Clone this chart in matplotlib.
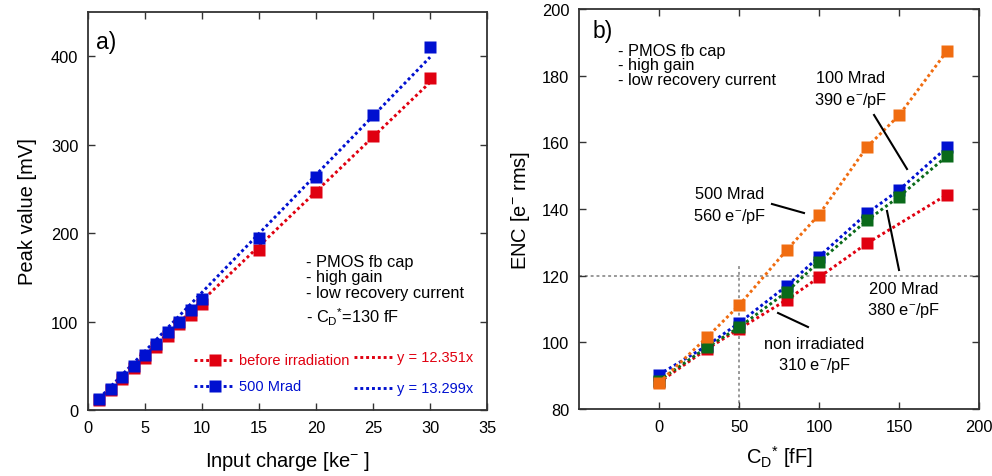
import matplotlib
matplotlib.use("Agg")
import matplotlib.pyplot as plt
import numpy as np

plt.rcParams["font.family"] = ["Liberation Sans", "DejaVu Sans"]
plt.rcParams["mathtext.fontset"] = "custom"
plt.rcParams["mathtext.rm"] = "Liberation Sans"
plt.rcParams["mathtext.it"] = "Liberation Sans"

RED = "#e00010"
BLUE = "#0010d0"
GREEN = "#0a6a1a"
ORANGE = "#f06c10"
AXIS = "#333333"

# a) peak value vs input charge
charge = [1, 2, 3, 4, 5, 6, 7, 8, 9, 10, 15, 20, 25, 30]
peak_before = [11, 23, 35, 47, 59, 71, 84, 97, 107, 120, 181, 246, 310, 375]
peak_500 = [12, 24, 37, 50, 62, 75, 88, 100, 113, 126, 195, 263, 333, 410]
slope_before = 12.351
slope_500 = 13.299

# b) ENC vs detector capacitance
cd_red = [0, 30, 50, 80, 100, 130, 180]
enc_non_irr = [88, 98, 104, 112.8, 119.5, 129.7, 144.3]
cd_all = [0, 30, 50, 80, 100, 130, 150, 180]
enc_100 = [90.3, 99, 105.8, 117, 125.7, 138.7, 145.7, 158.5]
enc_200 = [88.5, 98.5, 104.5, 115.2, 124.2, 136.6, 143.7, 155.9]
enc_500 = [87.9, 101.5, 111.1, 127.8, 138.3, 158.6, 168.1, 187.4]

MS = 8.2
LABEL_FS = 14.5
NOTE_FS = 11.8
DOTS = dict(ls=(0, (1.0, 1.0)), lw=2.1)


def style_axes(ax):
    for side in ax.spines.values():
        side.set_color(AXIS)
        side.set_linewidth(1.3)
    ax.tick_params(direction="in", length=5, width=1.0, color=AXIS,
                   top=True, right=True, labelsize=11.8, pad=7)


fig = plt.figure(figsize=(9.92, 4.77), dpi=100)
ax1 = fig.add_axes([0.0887, 0.1384, 0.4023, 0.8343])
ax2 = fig.add_axes([0.5837, 0.1405, 0.4032, 0.8385])

# ---- panel a ----
fit_x = np.array([1, 30])
ax1.plot(fit_x, slope_before * fit_x, color=RED, **DOTS)
ax1.plot(fit_x, slope_500 * fit_x, color=BLUE, **DOTS)
ax1.plot(charge, peak_before, "s", ms=MS, color=RED, mec="none")
ax1.plot(charge, peak_500, "s", ms=MS, color=BLUE, mec="none")
ax1.set_xlim(0, 35)
ax1.set_ylim(0, 450)
ax1.set_xticks(range(0, 36, 5))
ax1.set_yticks([0, 100, 200, 300, 400])
style_axes(ax1)
ax1.set_xlabel("Input charge [ke$^{-}$ ]", fontsize=LABEL_FS, labelpad=10)
ax1.set_ylabel("Peak value [mV]", fontsize=LABEL_FS, labelpad=10)
ax1.text(0.02, 0.955, "a)", transform=ax1.transAxes, fontsize=16.5, va="top")

info = ["- PMOS fb cap", "- high gain", "- low recovery current"]
for i, line in enumerate(info):
    ax1.text(19.1, 168 - i * 17.5, line, fontsize=NOTE_FS, va="center")
ax1.text(19.1, 106, "- C$_{D}$$^{*}$=130 fF", fontsize=NOTE_FS, va="center")

# legend drawn by hand as in the original
for y, col, lab in [(57, RED, "before irradiation"), (27, BLUE, "500 Mrad")]:
    ax1.plot([9.3, 12.8], [y, y], color=col, **DOTS)
    ax1.plot([11.1], [y], "s", ms=MS, color=col, mec="none")
    ax1.text(13.2, y, lab, fontsize=10.5, color=col, va="center")
for y, col, lab in [(60, RED, "y = 12.351x"), (25, BLUE, "y = 13.299x")]:
    ax1.plot([23.3, 26.7], [y, y], color=col, **DOTS)
    ax1.text(27.1, y, lab, fontsize=10.5, color=col, va="center")

# ---- panel b ----
ax2.axhline(120, color="#999999", ls=(0, (1.5, 1.5)), lw=1.4, zorder=1)
ax2.plot([50, 50], [80, 123.5], color="#999999", ls=(0, (1.5, 1.5)), lw=1.4, zorder=1)
for xs, ys, col in [(cd_red, enc_non_irr, RED), (cd_all, enc_100, BLUE),
                    (cd_all, enc_200, GREEN), (cd_all, enc_500, ORANGE)]:
    ax2.plot(xs, ys, color=col, marker="s", ms=MS, mec="none", **DOTS)
ax2.set_xlim(-50, 200)
ax2.set_ylim(80, 200)
ax2.set_xticks(range(0, 201, 50))
ax2.set_yticks(range(80, 201, 20))
style_axes(ax2)
ax2.set_xlabel("C$_{D}$$^{*}$ [fF]", fontsize=LABEL_FS, labelpad=7)
ax2.set_ylabel("ENC [e$^{-}$ rms]", fontsize=LABEL_FS, labelpad=7)
ax2.text(0.035, 0.975, "b)", transform=ax2.transAxes, fontsize=16.5, va="top")
for i, line in enumerate(info):
    ax2.text(-25.6, 187.7 - i * 4.4, line, fontsize=NOTE_FS, va="center")

labels = [
    ("100 Mrad", "390 e$^{-}$/pF", 120, 179.6, 173.0, (134.4, 168.2), (155, 152)),
    ("500 Mrad", "560 e$^{-}$/pF", 44, 144.8, 137.9, (70.6, 141.5), (90.6, 138.8)),
    ("200 Mrad", "380 e$^{-}$/pF", 153, 116.0, 109.7, (142.5, 139.4), (150, 121.7)),
    ("non irradiated", "310 e$^{-}$/pF", 97, 99.5, 93.2, (74.4, 108.8), (93.1, 104.6)),
]
for top, bottom, x, y1, y2, p0, p1 in labels:
    ax2.text(x, y1, top, fontsize=NOTE_FS, ha="center", va="center")
    ax2.text(x, y2, bottom, fontsize=NOTE_FS, ha="center", va="center")
    ax2.plot([p0[0], p1[0]], [p0[1], p1[1]], color="black", lw=1.5)

fig.savefig("out.png", dpi=100)
